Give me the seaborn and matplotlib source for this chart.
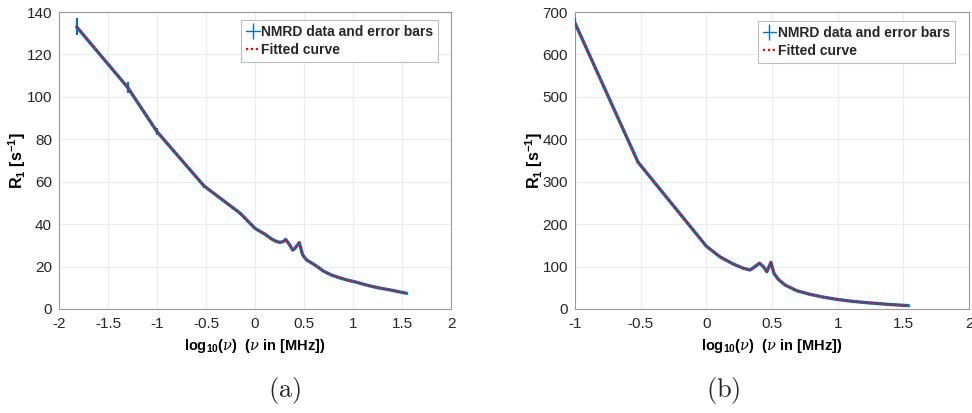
import matplotlib
matplotlib.use("Agg")
import matplotlib.pyplot as plt
from matplotlib.legend_handler import HandlerErrorbar, HandlerLine2D
from matplotlib.container import ErrorbarContainer
import seaborn as sns
import numpy as np
import pandas as pd

# ---- data ----
xa = [-1.82, -1.30, -1.00, -0.52, -0.15, 0.00, 0.10, 0.17, 0.21, 0.255, 0.29, 0.313,
      0.35, 0.385, 0.408, 0.43, 0.452, 0.486, 0.527, 0.56, 0.595, 0.65, 0.697, 0.74,
      0.782, 0.85, 0.935, 1.038, 1.12, 1.207, 1.29, 1.378, 1.46, 1.548]
ya = [133.0, 104.5, 83.6, 58.0, 45.1, 38.0, 35.3, 33.0, 32.0, 31.4, 31.8, 32.8,
      30.5, 27.8, 28.6, 30.0, 31.3, 25.5, 23.1, 22.2, 21.2, 19.5, 17.9, 16.9,
      16.0, 14.9, 13.7, 12.6, 11.5, 10.5, 9.7, 9.0, 8.2, 7.4]
ea = [4.0, 2.5, 1.5, 0.8, 0.6, 0.5, 0.4, 0.4, 0.4, 0.4, 0.4, 0.4,
      0.4, 0.4, 0.4, 0.4, 0.4, 0.4, 0.3, 0.3, 0.3, 0.3, 0.3, 0.3,
      0.3, 0.3, 0.3, 0.3, 0.2, 0.2, 0.2, 0.2, 0.2, 0.2]
fa = ya

xb = [-1.00, -0.52, 0.00, 0.104, 0.205, 0.282, 0.333, 0.371, 0.404, 0.434, 0.46, 0.492,
      0.515, 0.548, 0.599, 0.688, 0.789, 0.89, 0.993, 1.10, 1.221, 1.36, 1.50, 1.54]
yb = [674.0, 346.0, 148.0, 123.0, 106.0, 96.0, 92.0, 100.0, 108.0, 100.0, 88.0, 110.0,
      84.0, 70.0, 56.6, 43.2, 34.6, 28.0, 22.8, 18.5, 14.9, 11.5, 8.6, 8.0]
eb = [12.0, 4.0, 2.0, 1.5, 1.2, 1.0, 1.0, 1.0, 1.0, 1.0, 1.0, 1.0,
      1.0, 0.8, 0.6, 0.5, 0.4, 0.3, 0.3, 0.2, 0.2, 0.2, 0.2, 0.2]
fb = yb

xlim_a, xticks_a = (-2, 2), [-2, -1.5, -1, -0.5, 0, 0.5, 1, 1.5, 2]
ylim_a, yticks_a = (0, 140), [0, 20, 40, 60, 80, 100, 120, 140]
xlim_b, xticks_b = (-1, 2), [-1, -0.5, 0, 0.5, 1, 1.5, 2]
ylim_b, yticks_b = (0, 700), [0, 100, 200, 300, 400, 500, 600, 700]
tick_fmt = lambda v: ('%g' % v)

sns.set_theme(style="whitegrid")
FAM = ['Liberation Sans', 'DejaVu Sans']
plt.rcParams['font.family'] = FAM
plt.rcParams['axes.unicode_minus'] = False
plt.rcParams['mathtext.fontset'] = 'custom'
plt.rcParams['mathtext.rm'] = 'Liberation Sans:bold'
plt.rcParams['mathtext.bf'] = 'Liberation Sans:bold'
plt.rcParams['mathtext.it'] = 'DejaVu Serif:italic'

BLUE = '#0072BD'
RED = '#FF0000'

fig = plt.figure(figsize=(9.72, 4.13), dpi=100)
axA = fig.add_axes([59/972, 1-309/413, 392/972, 297/413])
axB = fig.add_axes([575/972, 1-309/413, 394/972, 297/413])


def thin_handle(legend_handle, orig_handle):
    legend_handle.update_from(orig_handle)
    legend_handle.set_linewidth(1.0)


def draw(ax, x, y, e, f, xlim, xticks, ylim, yticks, leg_anchor, ylab_x):
    ax.errorbar(x, y, yerr=e, fmt='-', color=BLUE, lw=2.4, elinewidth=1.6,
                capsize=0, label='NMRD data and error bars', zorder=3)
    df = pd.DataFrame({'x': x, 'f': f})
    sns.lineplot(data=df, x='x', y='f', ax=ax, color=RED, lw=1.6,
                 linestyle=(0, (1, 1.2)), label='Fitted curve', zorder=4,
                 estimator=None, sort=False)
    ax.set_xlim(*xlim)
    ax.set_ylim(*ylim)
    ax.set_xticks(xticks)
    ax.set_xticklabels([tick_fmt(v) for v in xticks])
    ax.set_yticks(yticks)
    ax.set_yticklabels([tick_fmt(v) for v in yticks])
    ax.set_facecolor('white')
    ax.grid(True, color='#ebebeb', lw=0.8)
    for s in ax.spines.values():
        s.set_visible(True)
        s.set_color('#9a9a9a')
        s.set_linewidth(0.8)
    ax.tick_params(axis='x', direction='in', length=3, width=0.6,
                   color='#9a9a9a', labelsize=11, labelcolor='#262626', pad=6)
    ax.tick_params(axis='y', direction='in', length=3, width=0.6,
                   color='#9a9a9a', labelsize=11, labelcolor='#262626', pad=5)
    ax.set_xlabel(r'log$_{10}$($\nu$)  ($\nu$ in [MHz])', fontsize=10.5,
                  fontweight='bold', color='black', labelpad=4)
    ax.set_ylabel(r'R$_1$ [s$^{-1}$]', fontsize=11.5, fontweight='bold',
                  color='black')
    ax.yaxis.set_label_coords(ylab_x, 0.5)
    h, l = ax.get_legend_handles_labels()
    order = [l.index('NMRD data and error bars'), l.index('Fitted curve')]
    leg = ax.legend([h[i] for i in order], [l[i] for i in order],
                    loc='upper right', bbox_to_anchor=leg_anchor,
                    borderaxespad=0, fancybox=False, framealpha=1,
                    edgecolor='#bdbdbd', handlelength=1.0, handletextpad=0.1,
                    borderpad=0.35, labelspacing=0.3,
                    handler_map={ErrorbarContainer: HandlerErrorbar(update_func=thin_handle, xerr_size=0.0, yerr_size=0.6)},
                    prop={'family': FAM, 'weight': 'bold', 'size': 10})
    leg.get_frame().set_linewidth(0.8)

draw(axA, xa, ya, ea, fa, xlim_a, xticks_a, ylim_a, yticks_a, (0.967, 0.973), -0.079)
draw(axB, xb, yb, eb, fb, xlim_b, xticks_b, ylim_b, yticks_b, (0.964, 0.970), -0.076)

fig.text(285/972, 1-390/413, r'$\mathrm{(a)}$', ha='center', va='center',
         fontsize=19, math_fontfamily='cm')
fig.text(723/972, 1-390/413, r'$\mathrm{(b)}$', ha='center', va='center',
         fontsize=19, math_fontfamily='cm')

fig.savefig('out.png', dpi=100, facecolor='white')
